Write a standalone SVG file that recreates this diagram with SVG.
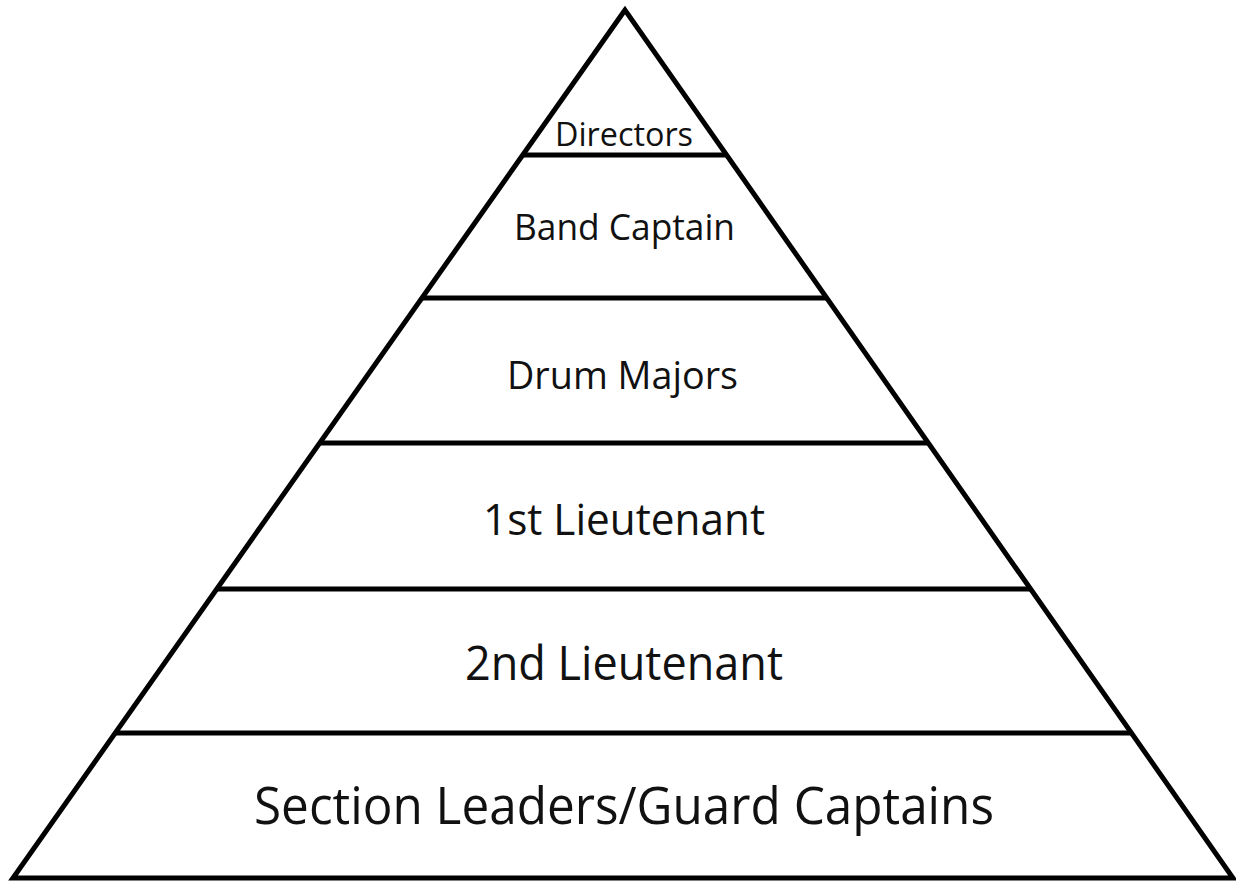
<svg xmlns="http://www.w3.org/2000/svg" width="1236" height="882" viewBox="0 0 1236 882">
  <style>
    .edge { fill: none; stroke: #000; stroke-width: 5; stroke-linejoin: miter; }
    .div { stroke: #000; stroke-width: 5; }
    .lbl { font-family: "Open Sans", "Liberation Sans", sans-serif; fill: #111; text-anchor: middle; }
  </style>
  <rect width="1236" height="882" fill="#fff"/>
  <g id="pyramid">
    <polygon class="edge" points="625,10 13,878 1233,878"/>
  </g>
  <g id="connectors">
    <line class="div" x1="523" y1="155" x2="727" y2="155"/>
    <line class="div" x1="422" y1="298" x2="827" y2="298"/>
    <line class="div" x1="320" y1="443" x2="929" y2="443"/>
    <line class="div" x1="217" y1="589" x2="1031" y2="589"/>
    <line class="div" x1="115" y1="733" x2="1132" y2="733"/>
  </g>
  <g id="directors">
    <text class="lbl" x="624" y="146" font-size="33" textLength="138" lengthAdjust="spacingAndGlyphs">Directors</text>
  </g>
  <g id="band-captain">
    <text class="lbl" x="624.5" y="240" font-size="36" textLength="221" lengthAdjust="spacingAndGlyphs">Band Captain</text>
  </g>
  <g id="drum-majors">
    <text class="lbl" x="622.5" y="389" font-size="38" textLength="231" lengthAdjust="spacingAndGlyphs">Drum Majors</text>
  </g>
  <g id="first-lieutenant">
    <text class="lbl" x="624" y="535" font-size="44" textLength="282" lengthAdjust="spacingAndGlyphs">1st Lieutenant</text>
  </g>
  <g id="second-lieutenant">
    <text class="lbl" x="624" y="680" font-size="47" textLength="318" lengthAdjust="spacingAndGlyphs">2nd Lieutenant</text>
  </g>
  <g id="section-leaders">
    <text class="lbl" x="624" y="824" font-size="51" textLength="740" lengthAdjust="spacingAndGlyphs">Section Leaders/Guard Captains</text>
  </g>
</svg>
